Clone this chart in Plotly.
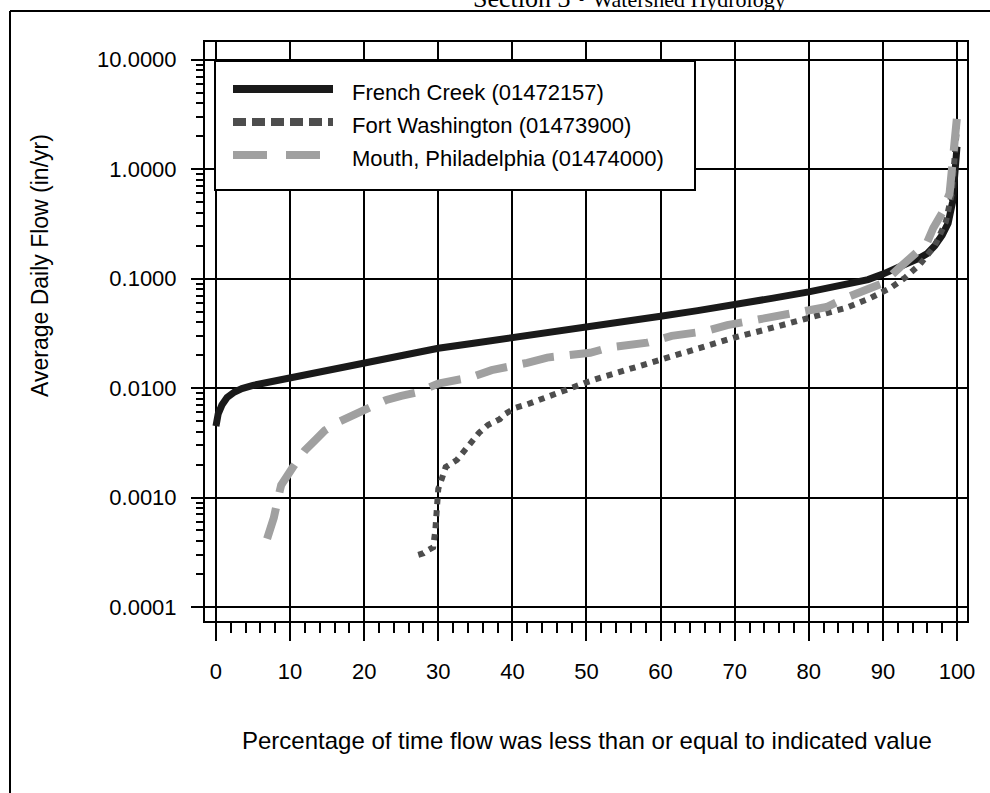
import plotly.graph_objects as go

# ---------------- data ----------------
french_x = [0, 0.3, 0.8, 1.5, 2.5, 3.5, 5, 7, 10, 15, 20, 25, 30, 35, 40, 45, 50, 55, 60,
            65, 70, 75, 80, 85, 88, 90, 92, 94, 95, 96, 97, 98, 98.8, 99.4, 99.8, 100]
french_y = [0.0045, 0.0058, 0.0070, 0.0082, 0.0092, 0.0099, 0.0106, 0.0113, 0.0123, 0.0143,
            0.0168, 0.0197, 0.0231, 0.0258, 0.0287, 0.0322, 0.036, 0.040, 0.0454, 0.051,
            0.057, 0.066, 0.0757, 0.088, 0.098, 0.11, 0.125, 0.145, 0.155, 0.17, 0.2, 0.25,
            0.32, 0.5, 0.9, 1.6]

fortw_x = [27.3, 28.0, 28.6, 29.3, 29.6, 29.8, 30.0, 30.5, 31, 32.5, 33.5, 34.7, 35.5, 36.7,
           38.3, 39, 40.4, 42, 44, 46.4, 48, 50, 52, 55, 58, 62, 66, 70, 74, 78, 82, 85, 88,
           91, 93, 95, 97, 98.5, 99.3, 99.8, 100]
fortw_y = [0.00030, 0.00031, 0.00033, 0.00035, 0.0005, 0.0008, 0.0012, 0.0015, 0.0019,
           0.0022, 0.0027, 0.0033, 0.0039, 0.0046, 0.0052, 0.0058, 0.0066, 0.0071, 0.0080,
           0.0093, 0.0101, 0.0113, 0.0125, 0.0144, 0.0165, 0.0205, 0.0245, 0.029, 0.034,
           0.040, 0.047, 0.054, 0.065, 0.082, 0.102, 0.135, 0.2, 0.33, 0.6, 1.3, 2.4]

mouth_x = [6.9, 7.8, 8.4, 8.8, 10.4, 12, 13.5, 14.7, 16.5, 18.5, 20.4, 23, 25, 27.3, 30, 32,
           34.3, 37.2, 40, 42, 44.7, 47.5, 50.5, 53.2, 58.2, 61.5, 66, 69, 74.4, 77, 82.4,
           85.3, 88, 90, 92.3, 94, 95.9, 96.8, 98, 99, 99.5, 100]
mouth_y = [0.00042, 0.00065, 0.0010, 0.0013, 0.0019, 0.0027, 0.0034, 0.0041, 0.0049, 0.0056,
           0.0063, 0.0078, 0.0085, 0.0092, 0.011, 0.0117, 0.0125, 0.0146, 0.0158, 0.017,
           0.019, 0.020, 0.021, 0.0236, 0.026, 0.030, 0.033, 0.0376, 0.0437, 0.048, 0.055,
           0.068, 0.08, 0.091, 0.127, 0.16, 0.209, 0.29, 0.4, 0.6, 1.2, 3.0]

series_names = ["French Creek (01472157)", "Fort Washington (01473900)",
                "Mouth, Philadelphia (01474000)"]
x_ticks = [0, 10, 20, 30, 40, 50, 60, 70, 80, 90, 100]
y_ticks = [0.0001, 0.001, 0.01, 0.1, 1, 10]
y_ticktext = ["0.0001", "0.0010", "0.0100", "0.1000", "1.0000", "10.0000"]
y_minor = [m * 10 ** k for k in range(-4, 1) for m in range(2, 10)]

# ---------------- styles ----------------
FONT = "Liberation Sans, Arial, sans-serif"
SERIF = "Liberation Serif, Times New Roman, serif"
colors = ["#1a1a1a", "#4d4d4d", "#a0a0a0"]
widths = [7, 6, 8]
dashes = ["solid", "6px,6px", "32px,16px"]

W, H = 990, 793
L, R, T, B = 205, 23, 42, 172
PW, PH = W - L - R, H - T - B


def px(xp):
    return (xp - L) / PW


def py(yp):
    return (H - B - yp) / PH


fig = go.Figure()
for xs, ys, name, c, w, d in zip([french_x, fortw_x, mouth_x], [french_y, fortw_y, mouth_y],
                                 series_names, colors, widths, dashes):
    fig.add_trace(go.Scatter(x=xs, y=ys, mode="lines", name=name,
                             line=dict(color=c, width=w, dash=d), showlegend=False))

fig.update_layout(
    width=W, height=H,
    margin=dict(l=L, r=R, t=T, b=B, pad=0),
    paper_bgcolor="white", plot_bgcolor="white",
    font=dict(family=FONT, size=22, color="black"),
)
fig.update_xaxes(
    range=[-1.48, 101.35], tickvals=x_ticks, ticks="outside", ticklen=18, tickwidth=2,
    tickcolor="black", showline=True, linecolor="black", linewidth=2, mirror=True,
    showgrid=True, gridcolor="black", gridwidth=2, zeroline=False,
    ticklabelstandoff=12, tickfont=dict(size=22),
    minor=dict(dtick=2, tick0=0, ticks="outside", ticklen=10, tickwidth=2, tickcolor="black",
               showgrid=False),
)
fig.update_yaxes(
    type="log", range=[-4.128, 1.162], tickvals=y_ticks, ticktext=y_ticktext,
    ticks="outside", ticklen=12, tickwidth=2, tickcolor="black",
    showline=True, linecolor="black", linewidth=2, mirror=True,
    showgrid=True, gridcolor="black", gridwidth=2, zeroline=False,
    ticklabelstandoff=10, tickfont=dict(size=22),
    minor=dict(tickmode="array", tickvals=y_minor, ticks="outside", ticklen=7, tickwidth=2,
               tickcolor="black", showgrid=False),
)

shapes = []
# page border (top rule and left rule)
shapes.append(dict(type="line", xref="paper", yref="paper", x0=px(10), x1=px(990),
                   y0=py(11), y1=py(11), line=dict(color="black", width=2)))
shapes.append(dict(type="line", xref="paper", yref="paper", x0=px(10), x1=px(10),
                   y0=py(11), y1=py(793), line=dict(color="black", width=2)))
# legend box
shapes.append(dict(type="rect", xref="paper", yref="paper", x0=px(215), x1=px(695),
                   y0=py(190), y1=py(61), fillcolor="white", layer="above",
                   line=dict(color="black", width=2)))
leg_rows = [89, 122, 155]
leg_dash = ["solid", "13px,6px", "34px,19px"]
annotations = []
for i, (yy, name, c, d) in enumerate(zip(leg_rows, series_names, colors, leg_dash)):
    shapes.append(dict(type="line", xref="paper", yref="paper", x0=px(233), x1=px(333),
                       y0=py(yy), y1=py(yy), layer="above",
                       line=dict(color=c, width=8, dash=d)))
    annotations.append(dict(xref="paper", yref="paper", x=px(350), y=py(yy + 3),
                            xanchor="left", yanchor="middle", text=name, showarrow=False,
                            font=dict(size=22, family=FONT, color="black")))

annotations.append(dict(xref="paper", yref="paper", x=px(40), y=py(266), textangle=-90,
                        xanchor="center", yanchor="middle", showarrow=False,
                        text="Average Daily Flow (in/yr)", font=dict(size=23, family=FONT)))
annotations.append(dict(xref="paper", yref="paper", x=px(587), y=py(740),
                        xanchor="center", yanchor="middle", showarrow=False,
                        text="Percentage of time flow was less than or equal to indicated value",
                        font=dict(size=24, family=FONT)))
annotations.append(dict(xref="paper", yref="paper", x=px(629), y=py(15),
                        xanchor="center", yanchor="bottom", showarrow=False,
                        text="Section 3 \u2022 <span style='font-size:22px'>Watershed Hydrology</span>",
                        font=dict(size=26, family=SERIF, color="black")))

fig.update_layout(shapes=shapes, annotations=annotations)
fig.write_html("out.html")
